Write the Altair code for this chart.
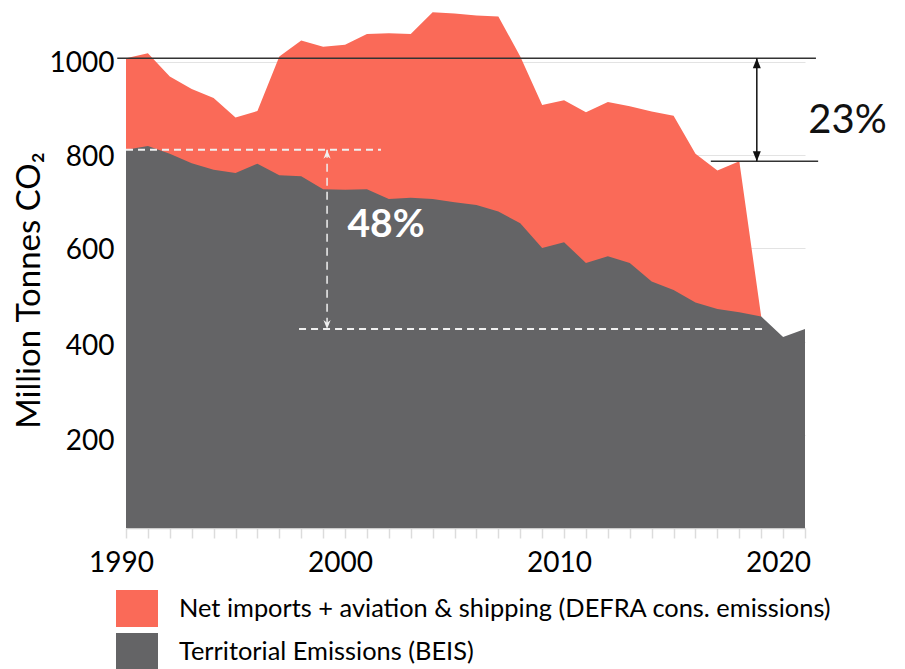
import altair as alt
import pandas as pd

# ---- data ----
years = list(range(1990, 2022))
territorial = [812, 820, 803, 783, 769, 762, 782, 757, 755, 727, 726, 727, 706, 709, 706,
               699, 693, 679, 654, 601, 613, 569, 583, 569, 529, 511, 484, 470, 463, 454,
               410, 427]
consumption = [1008, 1019, 969, 942, 923, 881, 895, 1012, 1046, 1033, 1037, 1060, 1062, 1060,
               1107, 1104, 1100, 1098, 1012, 908, 918, 892, 914, 905, 894, 885, 803, 767,
               787, 454]  # 1990-2019

S_NET = "Net imports + aviation & shipping (DEFRA cons. emissions)"
S_TER = "Territorial Emissions (BEIS)"
y_ticks = [200, 400, 600, 800, 1000]

RED = "#FA6A58"
GRAY = "#646466"
FONT = "Lato"

df_cons = pd.DataFrame({"year": years[:len(consumption)], "value": consumption, "series": S_NET})
df_ter = pd.DataFrame({"year": years, "value": territorial, "series": S_TER})

X_SCALE = alt.Scale(domain=[1990, 2021], nice=False, zero=False)
Y_SCALE = alt.Scale(domain=[0, 1116], nice=False, zero=False)

X_AX = alt.Axis(values=years, format="d",
                labelExpr="datum.value % 10 === 0 ? datum.label : ''",
                labelOverlap=False, labelFlush=False, grid=False,
                tickSize=10, tickColor="#dcdcdc", tickWidth=1.5,
                domainColor="#cccccc", domainWidth=1.5,
                labelFont=FONT, labelFontSize=28, labelColor="#000000",
                labelPadding=11, labelOffset=-5, title=None)
Y_AX = alt.Axis(values=y_ticks, format="d", grid=True, gridColor="#e3e3e3", gridWidth=1,
                ticks=False, domain=False,
                labelFont=FONT, labelFontSize=28, labelColor="#000000", labelPadding=12,
                labelOffset={"condition": [
                    {"test": "datum.value == 200", "value": 6.5},
                    {"test": "datum.value == 400", "value": 5},
                    {"test": "datum.value == 1000", "value": 1}],
                    "value": 2.5},
                title="Million Tonnes CO₂", titleFont=FONT, titleFontSize=33,
                titleFontWeight="normal", titleColor="#000000",
                titleAngle=270, titleAlign="center", titleBaseline="middle",
                titleX=-97, titleY=282)

LEGEND = alt.Legend(orient="none", legendX=-10, legendY=579.5, title=None,
                    direction="vertical",
                    symbolType="M-1,-0.88L1,-0.88L1,0.88L-1,0.88Z", symbolSize=1764,
                    symbolOpacity=1, symbolStrokeWidth=0,
                    labelFont=FONT, labelFontSize=25.4, labelColor="#000000",
                    labelOffset=21, rowPadding=3, labelLimit=900)
COLOR = alt.Color("series:N", scale=alt.Scale(domain=[S_NET, S_TER], range=[RED, GRAY]),
                  legend=LEGEND)


def xy(xf="year", yf="value"):
    return dict(x=alt.X(f"{xf}:Q", scale=X_SCALE, axis=X_AX),
                y=alt.Y(f"{yf}:Q", scale=Y_SCALE, axis=Y_AX, stack=None))


red_area = alt.Chart(df_cons).mark_area(opacity=1, interpolate="linear").encode(
    color=COLOR, **xy())
gray_area = alt.Chart(df_ter).mark_area(opacity=1, interpolate="linear").encode(
    color=COLOR, **xy())

# ---- annotations ----
top_val = consumption[0]
low_val = consumption[28]
ter_start = territorial[0]
ter_end = territorial[-1]

black_lines = pd.DataFrame({"x0": [1989.6, 2016.7], "x1": [2021.5, 2021.6],
                            "y": [top_val, low_val]})
black_rules = alt.Chart(black_lines).mark_rule(color="#333333", strokeWidth=1.5).encode(
    x=alt.X("x0:Q", scale=X_SCALE, axis=X_AX), x2="x1:Q",
    y=alt.Y("y:Q", scale=Y_SCALE, axis=Y_AX))

arrow_x = 2018.8
arrow_df = pd.DataFrame({"x": [arrow_x], "y0": [top_val], "y1": [low_val]})
arrow_rule = alt.Chart(arrow_df).mark_rule(color="#111111", strokeWidth=1.5).encode(
    x=alt.X("x:Q", scale=X_SCALE, axis=X_AX),
    y=alt.Y("y0:Q", scale=Y_SCALE, axis=Y_AX), y2="y1:Q")
arrow_up = alt.Chart(pd.DataFrame({"x": [arrow_x], "y": [top_val]})).mark_point(
    shape="M0,0L-0.4,1L0.4,1Z", filled=True, size=400, color="#111111", opacity=1).encode(
    x=alt.X("x:Q", scale=X_SCALE, axis=X_AX), y=alt.Y("y:Q", scale=Y_SCALE, axis=Y_AX))
arrow_dn = alt.Chart(pd.DataFrame({"x": [arrow_x], "y": [low_val]})).mark_point(
    shape="M0,0L-0.4,-1L0.4,-1Z", filled=True, size=400, color="#111111", opacity=1).encode(
    x=alt.X("x:Q", scale=X_SCALE, axis=X_AX), y=alt.Y("y:Q", scale=Y_SCALE, axis=Y_AX))

white_lines = pd.DataFrame({"x0": [1990, 1997.9], "x1": [2001.64, 2019.2],
                            "y": [ter_start, ter_end]})
white_rules = alt.Chart(white_lines).mark_rule(color="#f0f0f0", strokeWidth=2,
                                               strokeDash=[7, 5]).encode(
    x=alt.X("x0:Q", scale=X_SCALE, axis=X_AX), x2="x1:Q",
    y=alt.Y("y:Q", scale=Y_SCALE, axis=Y_AX))

warrow_x = 1999.18
warrow_df = pd.DataFrame({"x": [warrow_x], "y0": [ter_start], "y1": [ter_end]})
warrow_rule = alt.Chart(warrow_df).mark_rule(color="#f0f0f0", strokeWidth=1.5,
                                             strokeDash=[8, 6]).encode(
    x=alt.X("x:Q", scale=X_SCALE, axis=X_AX),
    y=alt.Y("y0:Q", scale=Y_SCALE, axis=Y_AX), y2="y1:Q")
warrow_up = alt.Chart(pd.DataFrame({"x": [warrow_x], "y": [ter_start]})).mark_point(
    shape="M0,0L-0.4,1L0,0.7L0.4,1Z", filled=True, size=324, color="#f0f0f0", opacity=1).encode(
    x=alt.X("x:Q", scale=X_SCALE, axis=X_AX), y=alt.Y("y:Q", scale=Y_SCALE, axis=Y_AX))
warrow_dn = alt.Chart(pd.DataFrame({"x": [warrow_x], "y": [ter_end]})).mark_point(
    shape="M0,0L-0.4,-1L0,-0.7L0.4,-1Z", filled=True, size=324, color="#f0f0f0", opacity=1).encode(
    x=alt.X("x:Q", scale=X_SCALE, axis=X_AX), y=alt.Y("y:Q", scale=Y_SCALE, axis=Y_AX))

txt48 = alt.Chart(pd.DataFrame({"x": [2001.87], "y": [651], "t": ["48%"]})).mark_text(
    font=FONT, fontSize=39, fontWeight="bold", color="#ffffff",
    align="center", baseline="middle").encode(
    x=alt.X("x:Q", scale=X_SCALE, axis=X_AX), y=alt.Y("y:Q", scale=Y_SCALE, axis=Y_AX),
    text="t:N")
txt23 = alt.Chart(pd.DataFrame({"x": [2022.94], "y": [873], "t": ["23%"]})).mark_text(
    font=FONT, fontSize=40, fontWeight="normal", color="#111111",
    align="center", baseline="middle").encode(
    x=alt.X("x:Q", scale=X_SCALE, axis=X_AX), y=alt.Y("y:Q", scale=Y_SCALE, axis=Y_AX),
    text="t:N")

chart = alt.layer(
    red_area, gray_area, black_rules, arrow_rule, arrow_up, arrow_dn,
    white_rules, warrow_rule, warrow_up, warrow_dn, txt48, txt23
).properties(
    width=679, height=520,
    padding={"left": 5, "top": 0, "right": 5, "bottom": 0},
    background="#ffffff"
).configure(font=FONT).configure_view(stroke="transparent", strokeWidth=0)

chart.save("out.html", embed_options={"renderer": "svg", "actions": False})
